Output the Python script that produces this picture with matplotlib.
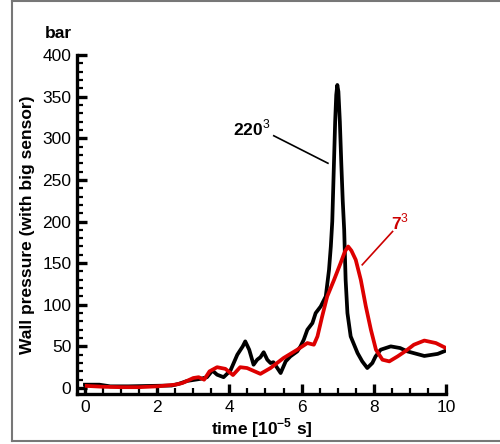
import matplotlib
matplotlib.use("Agg")
import matplotlib.pyplot as plt
from matplotlib.lines import Line2D
from matplotlib.ticker import MultipleLocator

plt.rcParams['font.family'] = ['Liberation Sans', 'DejaVu Sans']
plt.rcParams['mathtext.fontset'] = 'custom'
plt.rcParams['mathtext.rm'] = 'Liberation Sans'
plt.rcParams['mathtext.bf'] = 'Liberation Sans:bold'

# Fine grid (220^3) wall pressure history
t_fine = [0.0, 0.4, 0.7, 1.2, 1.8, 2.4, 2.6, 2.83, 3.2, 3.38, 3.53, 3.66, 3.84,
          4.03, 4.22, 4.37, 4.44, 4.55, 4.67, 4.77, 4.86, 4.95, 5.05, 5.14, 5.22,
          5.42, 5.56, 5.69, 5.88, 5.97, 6.06, 6.16, 6.3, 6.39, 6.53, 6.67, 6.76,
          6.81, 6.85, 6.89, 6.93, 6.96, 6.99, 7.02, 7.06, 7.10, 7.14, 7.18, 7.22,
          7.27, 7.36, 7.55, 7.68, 7.82, 7.96, 8.05, 8.19, 8.47, 8.73, 8.93, 9.4,
          9.77, 10.0]
p_fine = [4, 4, 2, 2, 2.5, 3, 5, 8.5, 11, 13, 21, 16, 13,
          21, 40, 50, 56, 46, 28, 34, 37, 43, 34, 30, 31,
          18, 32, 38, 44, 50, 58, 70, 78, 90, 98, 110, 142,
          170, 200, 260, 320, 352, 364, 356, 320, 270, 225, 190, 130,
          90, 62, 42, 32, 24, 30, 38, 46, 50, 48, 44, 38.5,
          41, 45]

# Coarse grid (7^3) wall pressure history
t_coarse = [0.05, 0.5, 1.0, 1.5, 2.0, 2.5, 2.7, 3.0, 3.15, 3.3, 3.45, 3.66, 3.89,
            4.1, 4.3, 4.49, 4.86, 5.14, 5.5, 5.88, 6.16, 6.34, 6.44, 6.57, 6.71,
            6.9, 7.08, 7.2, 7.29, 7.38, 7.5, 7.64, 7.78, 7.92, 8.06, 8.24, 8.43,
            8.66, 8.9, 9.11, 9.4, 9.72, 10.0]
p_coarse = [2.5, 1.5, 1, 1, 2, 4, 6, 12, 13, 10, 20, 25, 23,
            15.6, 25, 24, 17, 24, 36, 46, 54, 52, 62, 86, 110,
            130, 150, 164, 170, 165, 154, 130, 98, 70, 46, 34, 32,
            38, 45, 52, 57, 54, 48]

x_ticks = [0, 2, 4, 6, 8, 10]
y_ticks = [0, 50, 100, 150, 200, 250, 300, 350, 400]

fig = plt.figure(figsize=(5.0, 4.44), dpi=100)
ax = fig.add_axes([0.154, 0.1126, 0.738, 0.7635])

ax.plot(t_fine, p_fine, color='black', lw=2.7, solid_joinstyle='round')
ax.plot(t_coarse, p_coarse, color='#dd0000', lw=2.7, solid_joinstyle='round')

ax.set_xlim(-0.22, 10)
ax.set_ylim(-7.2, 400)
ax.set_xticks(x_ticks)
ax.set_yticks(y_ticks)
ax.xaxis.set_minor_locator(MultipleLocator(0.5))
ax.yaxis.set_minor_locator(MultipleLocator(10))

for s in ['top', 'right']:
    ax.spines[s].set_visible(False)
for s in ['left', 'bottom']:
    ax.spines[s].set_linewidth(2.4)
ax.tick_params(which='major', direction='in', length=7, width=2.4, labelsize=12.5, pad=4)
ax.tick_params(which='minor', direction='in', length=4, width=1.6)

ax.set_xlabel(r'time [10$^{\mathbf{-5}}$ s]', fontsize=12.5, fontweight='bold', labelpad=1)
ax.set_ylabel('Wall pressure (with big sensor)', fontsize=12.5, fontweight='bold', labelpad=5)
fig.text(58 / 500, 1 - 34 / 444, 'bar', fontsize=12.5, fontweight='bold',
         ha='center', va='center')

# curve labels with leader lines
ax.text(4.62, 312, r'220$^{\mathrm{3}}$', fontsize=12.5, fontweight='bold',
        color='black', ha='center', va='center')
ax.plot([5.23, 6.73], [303, 270], color='black', lw=1.2)
ax.text(8.72, 199, r'7$^{\mathrm{3}}$', fontsize=12.5, fontweight='bold',
        color='#cc0000', ha='center', va='center')
ax.plot([8.52, 7.68], [188, 148], color='#cc0000', lw=1.2)

# outer frame
frame_kw = dict(color='#777777', lw=1.5, transform=fig.transFigure)
fig.add_artist(Line2D([12 / 500, 1.0], [1 - 1.5 / 444, 1 - 1.5 / 444], **frame_kw))
fig.add_artist(Line2D([12 / 500, 12 / 500], [1 - 441 / 444, 1 - 1.5 / 444], **frame_kw))
fig.add_artist(Line2D([12 / 500, 1.0], [1 - 441 / 444, 1 - 441 / 444], **frame_kw))

fig.savefig('out.png', dpi=100)
